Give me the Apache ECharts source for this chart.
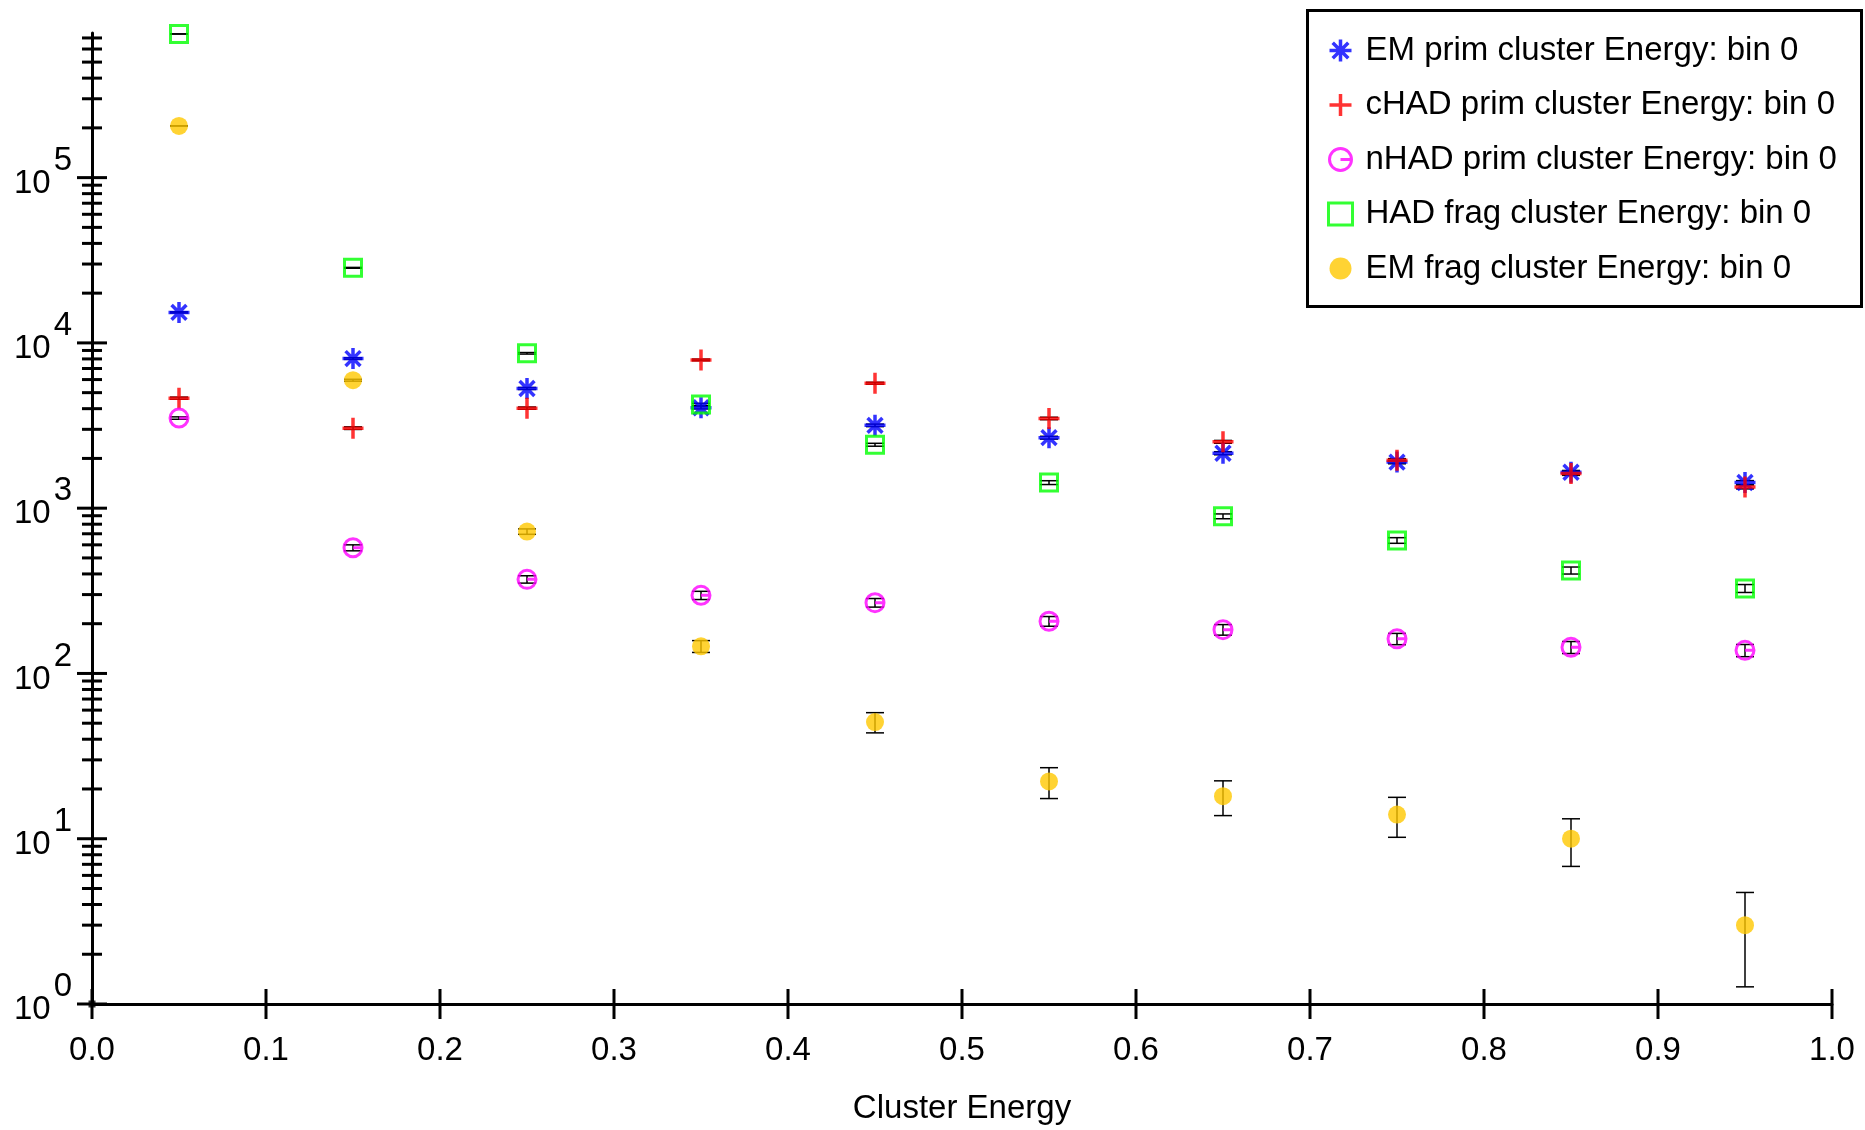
<!DOCTYPE html>
<html>
<head>
<meta charset="utf-8">
<script src="https://cdn.jsdelivr.net/npm/echarts@6/dist/echarts.min.js"></script>
<style>
html,body{margin:0;padding:0;background:#fff;}
#chart{width:1865px;height:1130px;}
</style>
</head>
<body>
<div id="chart"></div>
<script>
// ---- data ----
var xCenters = [0.05, 0.15, 0.25, 0.35, 0.45, 0.55, 0.65, 0.75, 0.85, 0.95];
var emPrim     = [15300, 8040, 5300, 4050, 3170, 2670, 2150, 1900, 1650, 1430];
var emPrimErr  = [124, 90, 73, 64, 56, 52, 46, 44, 41, 38];
var cHadPrim    = [4630, 3050, 4030, 7890, 5700, 3490, 2520, 1950, 1620, 1345];
var cHadPrimErr = [68, 55, 63, 89, 75, 59, 50, 44, 40, 37];
var nHadPrim    = [3510, 576, 371, 297, 268, 207, 184, 162, 144, 138];
var nHadPrimErr = [59, 24, 19, 17, 16, 14, 13.5, 12.7, 12, 11.7];
var hadFrag     = [740000, 28460, 8650, 4245, 2420, 1428, 893, 638, 420, 327];
var hadFragErr  = [860, 169, 93, 65, 49, 38, 30, 25, 20.5, 18];
var emFrag      = [205600, 5945, 722, 146, 50.8, 22.2, 18.1, 14.0, 10.0, 3.0];
var emFragErr   = [450, 77, 27, 12, 7.1, 4.7, 4.3, 3.8, 3.2, 1.73];
var originMarker = [[0, 1]];

var seriesNames = [
  'EM prim cluster Energy: bin 0',
  'cHAD prim cluster Energy: bin 0',
  'nHAD prim cluster Energy: bin 0',
  'HAD frag cluster Energy: bin 0',
  'EM frag cluster Energy: bin 0'
];
var xTicks = [0, 0.1, 0.2, 0.3, 0.4, 0.5, 0.6, 0.7, 0.8, 0.9, 1.0];
var yMajorTicks = [1, 10, 100, 1000, 10000, 100000];
var yMinorMantissa = [2, 3, 4, 5, 6, 7, 8, 9];
var yMin = 1, yMax = 750000;

// ---- styles ----
var FONT = '"Liberation Sans", Arial, Helvetica, sans-serif';
var colors = ['#0000ff', '#ff0000', '#ff00ff', '#00ff00', '#ffc800'];
var symStar = 'path://M0,-10L0,10M-10,0L10,0M-7.07,-7.07L7.07,7.07M-7.07,7.07L7.07,-7.07';
var symPlus = 'path://M0,-10L0,10M-10,0L10,0';
var symTheta = 'path://M8.5,0A8.5,8.5 0 1 1 -8.5,0A8.5,8.5 0 1 1 8.5,0M0,0L8.5,0';
var symbols = [symStar, symPlus, symTheta, 'rect', 'circle'];
var borderWidths = [3.5, 3.5, 3, 3, 0];

function pts(vals) { return vals.map(function (v, i) { return [xCenters[i], v]; }); }

var errRows = [];
[[emPrim, emPrimErr], [cHadPrim, cHadPrimErr], [nHadPrim, nHadPrimErr], [hadFrag, hadFragErr], [emFrag, emFragErr]]
  .forEach(function (p) {
    p[0].forEach(function (v, i) { errRows.push([xCenters[i], v - p[1][i], v + p[1][i]]); });
  });

var tickRows = [];
xTicks.forEach(function (v) { tickRows.push([0, v, 15]); });
yMajorTicks.forEach(function (v) { tickRows.push([1, v, 15]); });
yMajorTicks.forEach(function (d) {
  yMinorMantissa.forEach(function (m) { if (m * d <= yMax) tickRows.push([1, m * d, 10]); });
});

var chart = echarts.init(document.getElementById('chart'), null, {renderer: 'canvas'});

var legendData = seriesNames.map(function (n, i) {
  var hollow = i < 4;
  return {
    name: n,
    icon: symbols[i],
    itemStyle: hollow
      ? {color: 'rgba(0,0,0,0)', borderColor: colors[i], borderWidth: borderWidths[i]}
      : {color: colors[i], borderWidth: 0}
  };
});

var option = {
  backgroundColor: '#ffffff',
  animation: false,
  textStyle: {fontFamily: FONT},
  grid: {left: 92, right: 33, top: 33, bottom: 124, containLabel: false},
  xAxis: {
    type: 'value', min: 0, max: 1, interval: 0.1,
    name: 'Cluster Energy', nameLocation: 'middle', nameGap: 88,
    nameTextStyle: {fontSize: 33, color: '#000', fontFamily: FONT},
    axisLine: {show: true, lineStyle: {color: '#000', width: 3}},
    axisTick: {show: false},
    splitLine: {show: false},
    axisLabel: {
      fontSize: 33, color: '#000', fontFamily: FONT, margin: 30,
      formatter: function (v) { return v.toFixed(1); }
    }
  },
  yAxis: {
    type: 'log', logBase: 10, min: yMin, max: yMax,
    axisLine: {show: true, lineStyle: {color: '#000', width: 3}},
    axisTick: {show: false},
    splitLine: {show: false},
    axisLabel: {
      color: '#000', fontFamily: FONT, fontSize: 33, margin: 20, showMaxLabel: false,
      formatter: function (v) {
        var e = Math.log(v) / Math.LN10;
        var r = Math.round(e);
        if (Math.abs(e - r) > 1e-6) return '';
        return '{b|10}{s|' + r + '}';
      },
      rich: {
        b: {fontSize: 33, fontFamily: FONT, color: '#000', padding: [12, 0, 0, 0]},
        s: {fontSize: 33, fontFamily: FONT, color: '#000', padding: [0, 0, 34, 3]}
      }
    }
  },
  legend: {
    orient: 'vertical', left: 1322, top: 28,
    itemWidth: 24, itemHeight: 22, itemGap: 19.5,
    textStyle: {fontSize: 33, lineHeight: 35, color: '#000', fontFamily: FONT, padding: [0, 0, 0, 8]},
    data: legendData,
    selectedMode: false
  },
  graphic: [{
    type: 'rect', left: 1305, top: 8, z: 100,
    shape: {width: 554, height: 296},
    style: {fill: 'none', stroke: '#000', lineWidth: 3}
  }],
  series: [
    {
      type: 'custom', name: 'errors', z: 1, silent: true,
      data: errRows,
      encode: {x: 0, y: [1, 2]},
      renderItem: function (params, api) {
        var x = api.value(0);
        var lo = api.coord([x, api.value(1)]);
        var hi = api.coord([x, api.value(2)]);
        var cw = 9;
        return {
          type: 'group',
          children: [
            {type: 'line', shape: {x1: lo[0], y1: lo[1], x2: hi[0], y2: hi[1]}, style: {stroke: '#000', lineWidth: 1.5}},
            {type: 'line', shape: {x1: lo[0] - cw, y1: lo[1], x2: lo[0] + cw, y2: lo[1]}, style: {stroke: '#000', lineWidth: 1.5}},
            {type: 'line', shape: {x1: hi[0] - cw, y1: hi[1], x2: hi[0] + cw, y2: hi[1]}, style: {stroke: '#000', lineWidth: 1.5}}
          ]
        };
      }
    },
    {
      type: 'custom', name: 'ticks', z: 5, silent: true, clip: false,
      data: tickRows,
      renderItem: function (params, api) {
        var kind = api.value(0), v = api.value(1), h = api.value(2);
        var p;
        if (kind === 0) {
          p = api.coord([v, yMin]);
          return {type: 'line', shape: {x1: p[0], y1: p[1] - h, x2: p[0], y2: p[1] + h}, style: {stroke: '#000', lineWidth: 3}};
        }
        p = api.coord([0, v]);
        return {type: 'line', shape: {x1: p[0] - h, y1: p[1], x2: p[0] + h, y2: p[1]}, style: {stroke: '#000', lineWidth: 3}};
      }
    },
    {
      type: 'scatter', name: seriesNames[0], z: 2, data: pts(emPrim),
      symbol: symStar, symbolSize: 21,
      itemStyle: {color: 'rgba(0,0,0,0)', borderColor: colors[0], borderWidth: borderWidths[0]}
    },
    {
      type: 'scatter', name: seriesNames[1], z: 2, data: pts(cHadPrim),
      symbol: symPlus, symbolSize: 21,
      itemStyle: {color: 'rgba(0,0,0,0)', borderColor: colors[1], borderWidth: borderWidths[1]}
    },
    {
      type: 'scatter', name: seriesNames[2], z: 2, data: pts(nHadPrim),
      symbol: symTheta, symbolSize: 18,
      itemStyle: {color: 'rgba(0,0,0,0)', borderColor: colors[2], borderWidth: borderWidths[2]}
    },
    {
      type: 'scatter', name: seriesNames[3], z: 2, data: pts(hadFrag),
      symbol: 'rect', symbolSize: 17,
      itemStyle: {color: 'rgba(0,0,0,0)', borderColor: colors[3], borderWidth: borderWidths[3]}
    },
    {
      type: 'scatter', name: seriesNames[4], z: 2, data: pts(emFrag),
      symbol: 'circle', symbolSize: 18,
      itemStyle: {color: colors[4], borderWidth: 0}
    },
    {
      type: 'scatter', name: 'origin', z: 6, data: originMarker,
      symbol: 'rect', symbolSize: 7, silent: true,
      itemStyle: {color: '#000'}
    }
  ]
};
chart.setOption(option);
</script>
</body>
</html>
